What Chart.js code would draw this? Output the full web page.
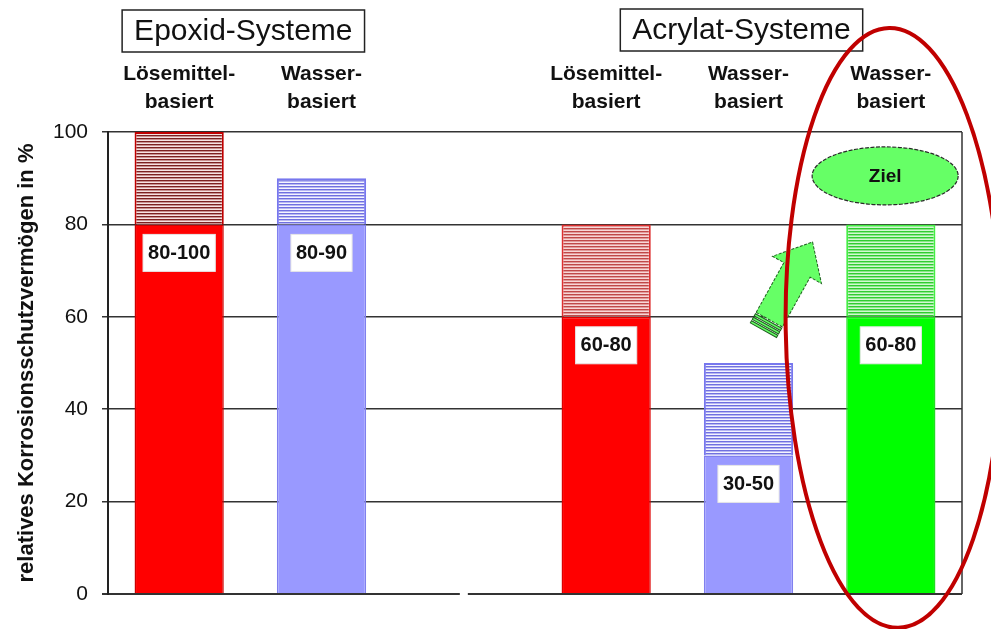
<!DOCTYPE html>
<html lang="de">
<head>
<meta charset="utf-8">
<title>Korrosionsschutzvermögen</title>
<script src="https://cdn.jsdelivr.net/npm/chart.js@4.4.1/dist/chart.umd.min.js"></script>
<style>
  html, body { margin: 0; padding: 0; background: #fff; }
  #wrap { position: relative; width: 991px; height: 629px; }
</style>
</head>
<body>
<div id="wrap"><canvas id="chart"></canvas></div>
<script>
// Coating systems, left block epoxy, right block acrylate (third slot is a spacer)
const categories = [
  ['Lösemittel-', 'basiert'],
  ['Wasser-', 'basiert'],
  '',
  ['Lösemittel-', 'basiert'],
  ['Wasser-', 'basiert'],
  ['Wasser-', 'basiert']
];
const groupTitles = ['Epoxid-Systeme', 'Acrylat-Systeme'];
// Lower and upper bound of relative corrosion protection (%)
const lowerValues = [80, 80, null, 60, 30, 60];
const upperValues = [100, 90, null, 80, 50, 80];
const rangeLabels = ['80-100', '80-90', '', '60-80', '30-50', '60-80'];
const goalLabel = 'Ziel';
const yTicks = [0, 20, 40, 60, 80, 100];
const yTitle = 'relatives Korrosionsschutzvermögen in %';

// Span between lower and upper bound, stacked on the solid part
const spanValues = upperValues.map((u, i) => (u === null ? null : u - lowerValues[i]));

// Striped fill for the uncertain upper part of each bar
function stripes(line, mid, light) {
  const c = document.createElement('canvas');
  c.width = 4; c.height = 3;
  const g = c.getContext('2d');
  g.fillStyle = light; g.fillRect(0, 0, 4, 3);
  g.fillStyle = line; g.fillRect(0, 0, 4, 1);
  g.fillStyle = mid; g.fillRect(0, 1, 4, 1);
  return g.createPattern(c, 'repeat');
}

const FONT = '"Liberation Sans", Arial, sans-serif';
const solidFill = ['#ff0000', '#9999ff', null, '#ff0000', '#9999ff', '#00ff00'];
const solidEdge = ['#cc0000', '#8080ee', null, '#dd0000', '#8080ee', '#22dd22'];
const stripeFill = [
  stripes('#7c2020', '#c89090', '#f6e2e2'),
  stripes('#7070e0', '#b8b8f2', '#f4f4ff'),
  null,
  stripes('#c04848', '#e09a9a', '#f8d6d6'),
  stripes('#7070e0', '#b8b8f2', '#f4f4ff'),
  stripes('#30cc30', '#88e888', '#d2f7d2')
];
const stripeEdge = ['#c00000', '#7777ee', null, '#dd3030', '#7777ee', '#44ee44'];

// Header boxes, range labels, goal marker and highlight ring
const decorations = {
  id: 'decorations',
  afterDraw(chart) {
    const { ctx, scales: { x, y }, chartArea: area } = chart;
    ctx.save();

    // gap in the baseline between both system groups
    ctx.fillStyle = '#fff';
    ctx.fillRect(x.getPixelForValue(2) - 4, y.getPixelForValue(0) - 3, 8, 6);

    // right frame edge
    ctx.strokeStyle = '#333';
    ctx.lineWidth = 1.5;
    ctx.beginPath();
    ctx.moveTo(area.right, area.top);
    ctx.lineTo(area.right, area.bottom);
    ctx.stroke();

    // group headers
    ctx.font = '30px ' + FONT;
    ctx.textAlign = 'center';
    ctx.textBaseline = 'middle';
    const heads = [
      { text: groupTitles[0], cx: (x.getPixelForValue(0) + x.getPixelForValue(1)) / 2 - 7, cy: 31 },
      { text: groupTitles[1], cx: x.getPixelForValue(4) - 7, cy: 30 }
    ];
    heads.forEach(h => {
      const w = ctx.measureText(h.text).width + 24;
      ctx.fillStyle = '#fff';
      ctx.fillRect(h.cx - w / 2, h.cy - 21, w, 42);
      ctx.strokeStyle = '#222';
      ctx.lineWidth = 1.5;
      ctx.strokeRect(h.cx - w / 2, h.cy - 21, w, 42);
      ctx.fillStyle = '#111';
      ctx.fillText(h.text, h.cx, h.cy + 1);
    });

    // range labels in white boxes
    const meta = chart.getDatasetMeta(0);
    ctx.font = 'bold 20px ' + FONT;
    rangeLabels.forEach((t, i) => {
      if (!t) return;
      const bx = meta.data[i].x;
      const by = y.getPixelForValue(lowerValues[i]) + 28;
      const w = ctx.measureText(t).width + 10;
      ctx.fillStyle = '#fff';
      ctx.fillRect(bx - w / 2, by - 18, w, 37);
      ctx.strokeStyle = '#e6e6e6';
      ctx.lineWidth = 1;
      ctx.strokeRect(bx - w / 2, by - 18, w, 37);
      ctx.fillStyle = '#111';
      ctx.fillText(t, bx, by + 1);
    });

    // arrow pointing towards the goal bar
    const tx = x.getPixelForValue(4.105), ty = y.getPixelForValue(57.1);
    const hx = x.getPixelForValue(4.45), hy = y.getPixelForValue(76.2);
    const ang = Math.atan2(hy - ty, hx - tx);
    const len = Math.hypot(hx - tx, hy - ty);
    ctx.save();
    ctx.translate(tx, ty);
    ctx.rotate(ang);
    const sw = 15, hw = 28, hl = 32;
    ctx.beginPath();
    ctx.moveTo(12, -sw);
    ctx.lineTo(len - hl, -sw);
    ctx.lineTo(len - hl, -hw);
    ctx.lineTo(len, 0);
    ctx.lineTo(len - hl, hw);
    ctx.lineTo(len - hl, sw);
    ctx.lineTo(12, sw);
    ctx.closePath();
    ctx.fillStyle = '#66ff66';
    ctx.fill();
    ctx.strokeStyle = '#1f5f1f';
    ctx.lineWidth = 1;
    ctx.setLineDash([3, 1.5]);
    ctx.stroke();
    // striped tail
    ctx.setLineDash([]);
    for (let k = 0; k < 3; k++) {
      const px = k * 4;
      ctx.fillStyle = '#66ff66';
      ctx.fillRect(px, -sw, 2.5, sw * 2);
      ctx.strokeRect(px, -sw, 2.5, sw * 2);
    }
    ctx.restore();

    // goal ellipse
    const gx = x.getPixelForValue(4.96), gy = y.getPixelForValue(90.5);
    ctx.beginPath();
    ctx.ellipse(gx, gy, 73, 29, 0, 0, Math.PI * 2);
    ctx.fillStyle = '#66ff66';
    ctx.fill();
    ctx.strokeStyle = '#2a2a2a';
    ctx.lineWidth = 1.2;
    ctx.setLineDash([4, 1.5]);
    ctx.stroke();
    ctx.setLineDash([]);
    ctx.fillStyle = '#111';
    ctx.font = 'bold 19px ' + FONT;
    ctx.fillText(goalLabel, gx, gy + 1);

    // highlight ring round the goal column
    const rx = x.getPixelForValue(5.02), ry = y.getPixelForValue(57.6);
    ctx.beginPath();
    ctx.ellipse(rx, ry, 108, 300, -0.015, 0, Math.PI * 2);
    ctx.strokeStyle = '#c00000';
    ctx.lineWidth = 4;
    ctx.stroke();

    ctx.restore();
  }
};

new Chart(document.getElementById('chart'), {
  type: 'bar',
  data: {
    labels: categories,
    datasets: [
      {
        label: 'untere Grenze',
        data: lowerValues,
        backgroundColor: solidFill,
        borderColor: solidEdge,
        borderWidth: 1.5,
        borderSkipped: 'start'
      },
      {
        label: 'Spanne',
        data: spanValues,
        backgroundColor: stripeFill,
        borderColor: stripeEdge,
        borderWidth: 2,
        borderSkipped: 'start'
      }
    ]
  },
  options: {
    responsive: true,
    maintainAspectRatio: false,
    animation: false,
    datasets: { bar: { categoryPercentage: 1, barPercentage: 0.627 } },
    layout: { padding: { top: 0, right: 29, bottom: 35, left: 0 } },
    plugins: { legend: { display: false }, tooltip: { enabled: false } },
    scales: {
      x: {
        position: 'top',
        stacked: true,
        grid: { display: false, drawTicks: false, tickLength: 0 },
        border: { display: false },
        ticks: {
          color: '#111',
          padding: 16,
          maxRotation: 0,
          autoSkip: false,
          font: { family: FONT, size: 21, weight: 'bold', lineHeight: 1.33 }
        },
        afterFit(scale) { scale.height = 132; }
      },
      y: {
        stacked: true,
        min: 0,
        max: 100,
        afterBuildTicks(scale) { scale.ticks = yTicks.map(v => ({ value: v })); },
        grid: {
          color: '#333',
          lineWidth: ctx => (ctx.tick && ctx.tick.value === 0 ? 2 : 1.5),
          tickLength: 6
        },
        border: { display: true, color: '#222', width: 2 },
        ticks: {
          color: '#111',
          padding: 14,
          font: { family: FONT, size: 21 }
        },
        title: {
          display: true,
          text: yTitle,
          color: '#111',
          padding: { top: 14 },
          font: { family: FONT, size: 22, weight: 'bold' }
        },
        afterFit(scale) { scale.width = 108; }
      }
    }
  },
  plugins: [decorations]
});
</script>
</body>
</html>
